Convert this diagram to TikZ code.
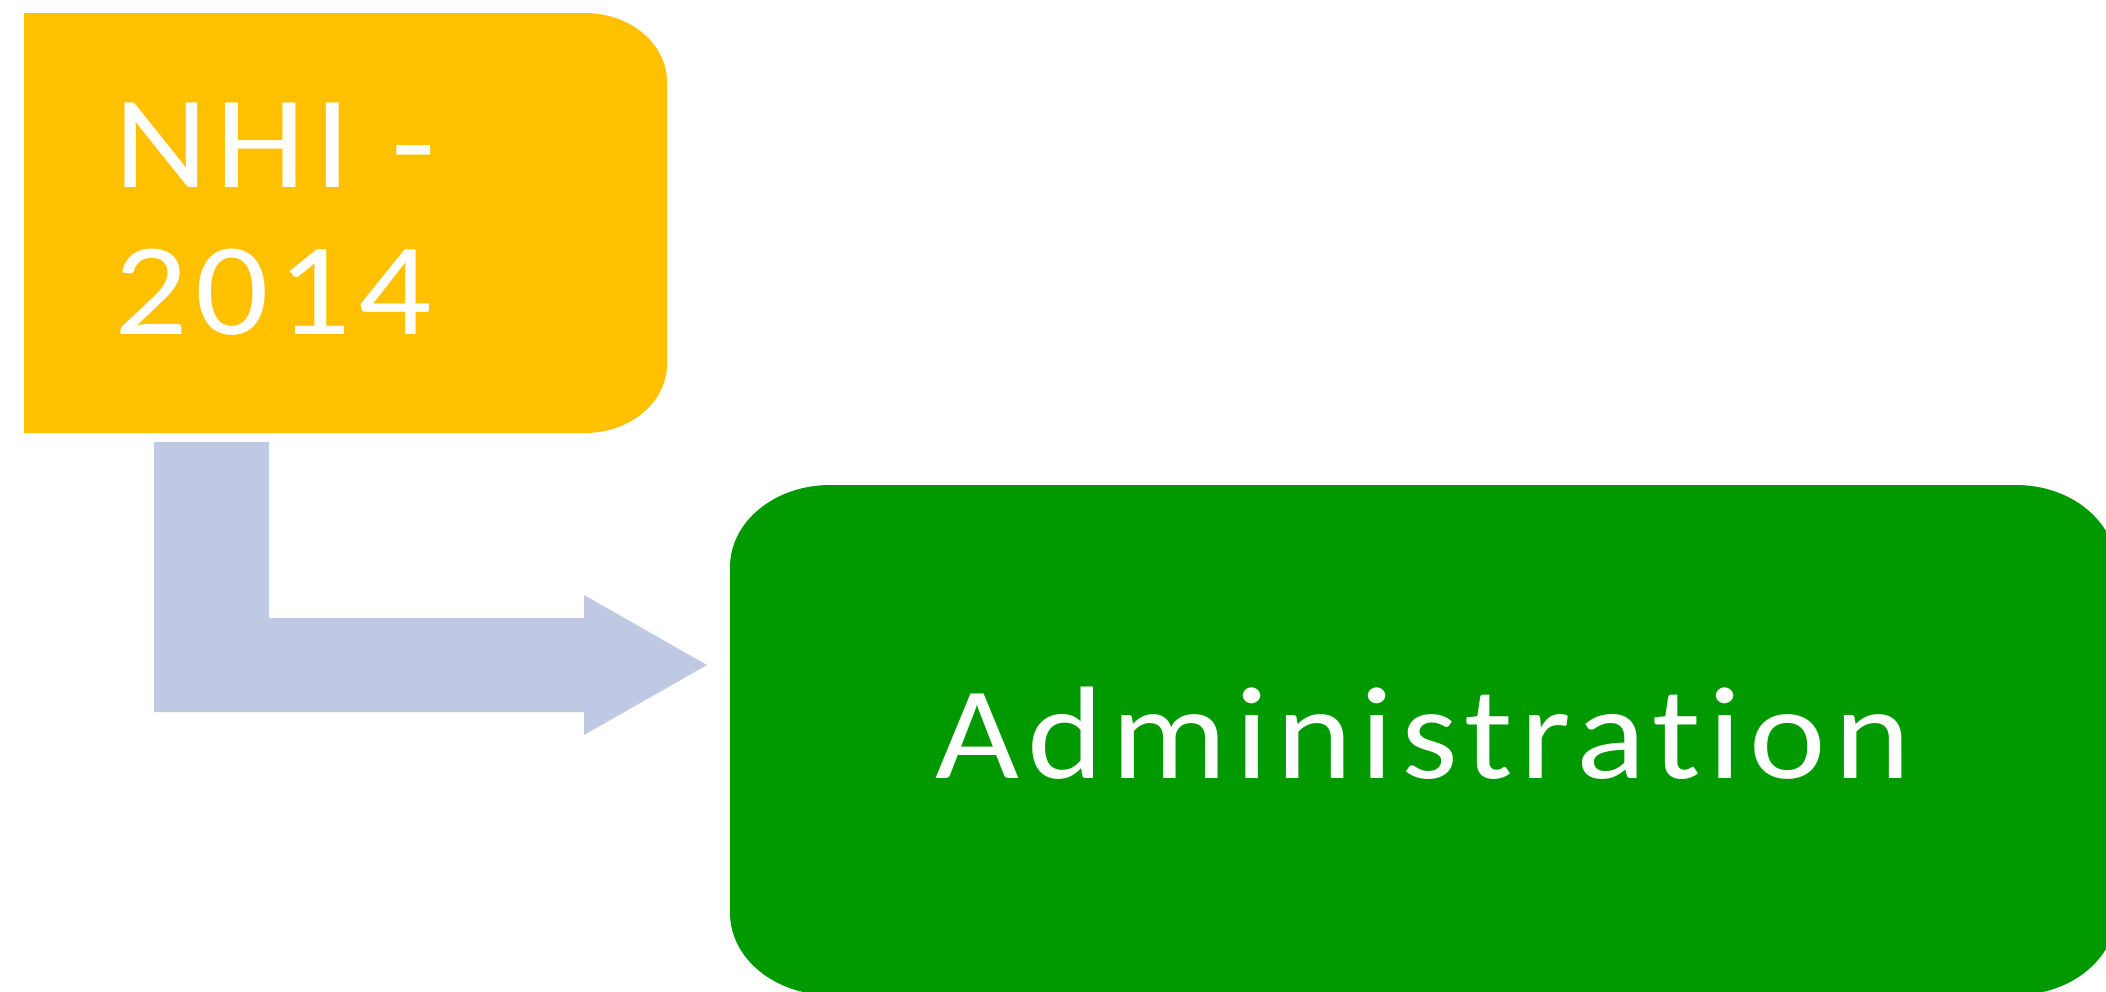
\documentclass[tikz,border=0pt]{standalone}
\usepackage{fontspec}
\newfontfamily\calfont[LetterSpace=6,FakeStretch=1.1,Ligatures={NoCommon}]{Carlito}
\definecolor{ybox}{HTML}{FFC000}
\definecolor{gbox}{HTML}{009900}
\definecolor{arrowc}{HTML}{C0C9E4}
\tikzset{
  boxtext/.style={text=white, inner sep=0pt, font=\calfont\fontsize{75}{83.3}\selectfont},
}
\begin{document}
\begin{tikzpicture}[x=0.02cm,y=-0.02cm]
\useasboundingbox (0,0) rectangle (2106,991);
\clip (0,0) rectangle (2106,991);
% yellow box
\fill[ybox] (24,13) -- (585,13) .. controls (630.3,13) and (667,43.9) .. (667,82)
  -- (667,364) .. controls (667,402.1) and (630.3,433) .. (585,433) -- (24,433) -- cycle;
\node[boxtext, anchor=north west, align=left] (nhi) at (114,103) {NHI -\\2014};
% green box
\fill[gbox] (830,485) -- (2016,485) .. controls (2071.2,485) and (2116,521.7) .. (2116,567)
  -- (2116,913) .. controls (2116,958.3) and (2071.2,995) .. (2016,995)
  -- (830,995) .. controls (774.8,995) and (730,958.3) .. (730,913)
  -- (730,567) .. controls (730,521.7) and (774.8,485) .. (830,485) -- cycle;
\node[boxtext, anchor=base] (admin) at (1423,778) {Administration};
% bent arrow
\fill[arrowc] (154,442) -- (269,442) -- (269,618) -- (584,618) -- (584,595)
  -- (707,665) -- (584,735) -- (584,712) -- (154,712) -- cycle;
\end{tikzpicture}
\end{document}
